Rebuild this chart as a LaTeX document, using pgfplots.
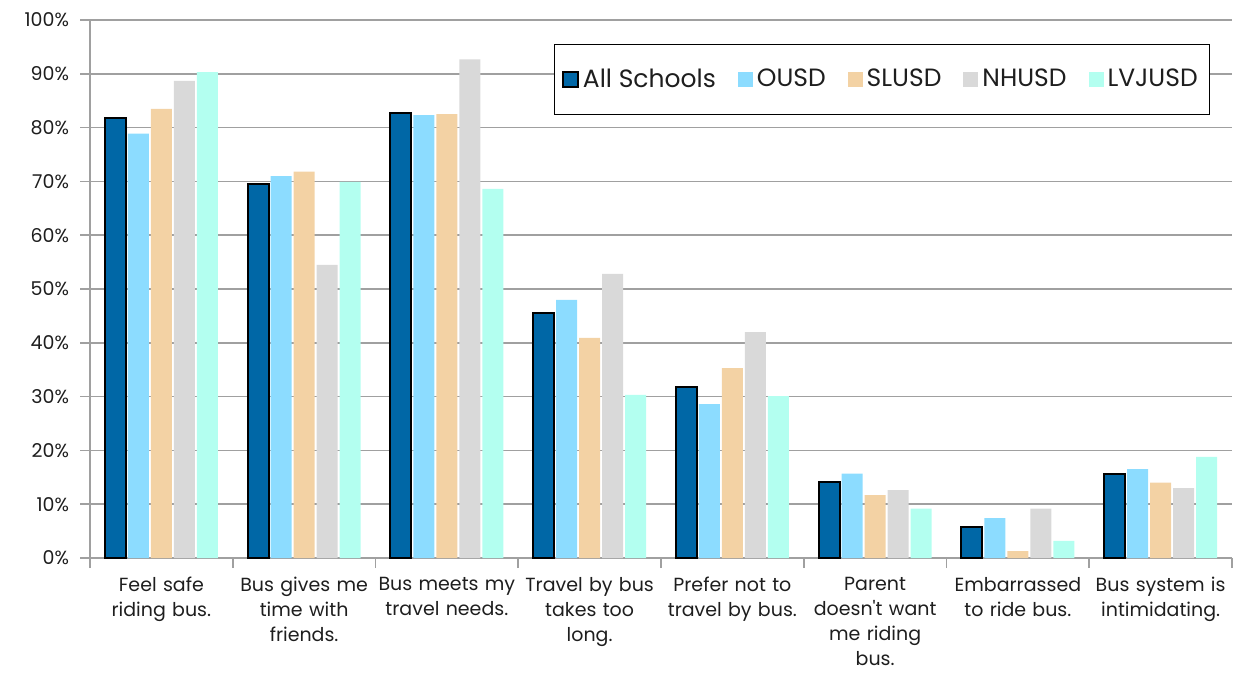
\documentclass[border=0pt]{standalone}
\usepackage{fontspec}
\setmainfont{Poppins}[Ligatures=TeXOff]
\usepackage{pgfplots}
\pgfplotsset{compat=1.18}
\definecolor{cAll}{RGB}{0,103,166}
\definecolor{cOUSD}{RGB}{140,220,255}
\definecolor{cSLUSD}{RGB}{243,210,164}
\definecolor{cNHUSD}{RGB}{217,217,217}
\definecolor{cLVJUSD}{RGB}{179,255,240}
\definecolor{gridgray}{RGB}{160,160,160}
\definecolor{txt}{RGB}{30,30,30}
\begin{document}
\begin{tikzpicture}
\begin{axis}[
  at={(0pt,0pt)}, anchor=south west,
  scale only axis, width=571pt, height=269pt,
  xmin=-0.5, xmax=7.5, ymin=0, ymax=100,
  ybar=1pt, bar width=10.5pt,
  axis x line*=bottom, axis y line*=left,
  axis line style={gridgray, line width=0.8pt},
  tick align=outside, major tick length=5pt, minor tick length=5pt,
  tick style={gridgray, line width=0.8pt},
  ytick={0,10,...,100},
  yticklabel={\pgfmathprintnumber{\tick}\%},
  /pgf/number format/assume math mode=true,
  ymajorgrids, grid style={gridgray, line width=0.8pt},
  xtick={0,...,7},
  minor xtick={-0.5,0.5,...,7.5},
  major x tick style={draw=none},
  xticklabels={{Feel safe\\riding bus.},{Bus gives me\\time with\\friends.},{Bus meets my\\travel needs.},{Travel by bus\\takes too\\long.},{Prefer not to\\travel by bus.},{Parent\\doesn't want\\me riding\\bus.},{Embarrassed\\to ride bus.},{Bus system is\\intimidating.}},
  xticklabel style={align=center, text width=74pt, font=\fontsize{9.5}{12.5}\selectfont, anchor=north, yshift=-1pt, text=txt},
  yticklabel style={font=\fontsize{9.5}{12}\selectfont, xshift=-2pt, text=txt},
  legend style={at={(0.981,0.955)}, anchor=north east, legend columns=-1, draw=black, line width=0.6pt,
    font=\fontsize{12.5}{14}\selectfont, inner xsep=4pt, inner ysep=10pt, text=txt,
    /tikz/every even column/.append style={column sep=9pt}},
  legend image code/.code={\path[fill,#1,draw=none] (0pt,-3.75pt) rectangle (7.5pt,3.75pt);},
]
\addplot[fill=cAll, draw=black, line width=1pt,
  legend image code/.code={\path[fill=cAll,draw=black,line width=0.9pt] (0pt,-3.75pt) rectangle (7.5pt,3.75pt);}]
  coordinates {(0,81.8) (1,69.6) (2,82.7) (3,45.6) (4,31.8) (5,14.1) (6,5.8) (7,15.7)};
\addplot[fill=cOUSD, draw=none] coordinates {(0,78.9) (1,71.0) (2,82.3) (3,48.0) (4,28.6) (5,15.7) (6,7.4) (7,16.5)};
\addplot[fill=cSLUSD, draw=none] coordinates {(0,83.5) (1,71.8) (2,82.5) (3,40.9) (4,35.3) (5,11.7) (6,1.3) (7,14.0)};
\addplot[fill=cNHUSD, draw=none] coordinates {(0,88.7) (1,54.5) (2,92.7) (3,52.8) (4,42.0) (5,12.6) (6,9.2) (7,13.0)};
\addplot[fill=cLVJUSD, draw=none] coordinates {(0,90.3) (1,69.9) (2,68.6) (3,30.3) (4,30.1) (5,9.2) (6,3.2) (7,18.8)};
\legend{All Schools, OUSD, SLUSD, NHUSD, LVJUSD}
\end{axis}
\pgfresetboundingbox
\useasboundingbox (-45pt,-58.5pt) rectangle (575pt,279pt);
\end{tikzpicture}
\end{document}
